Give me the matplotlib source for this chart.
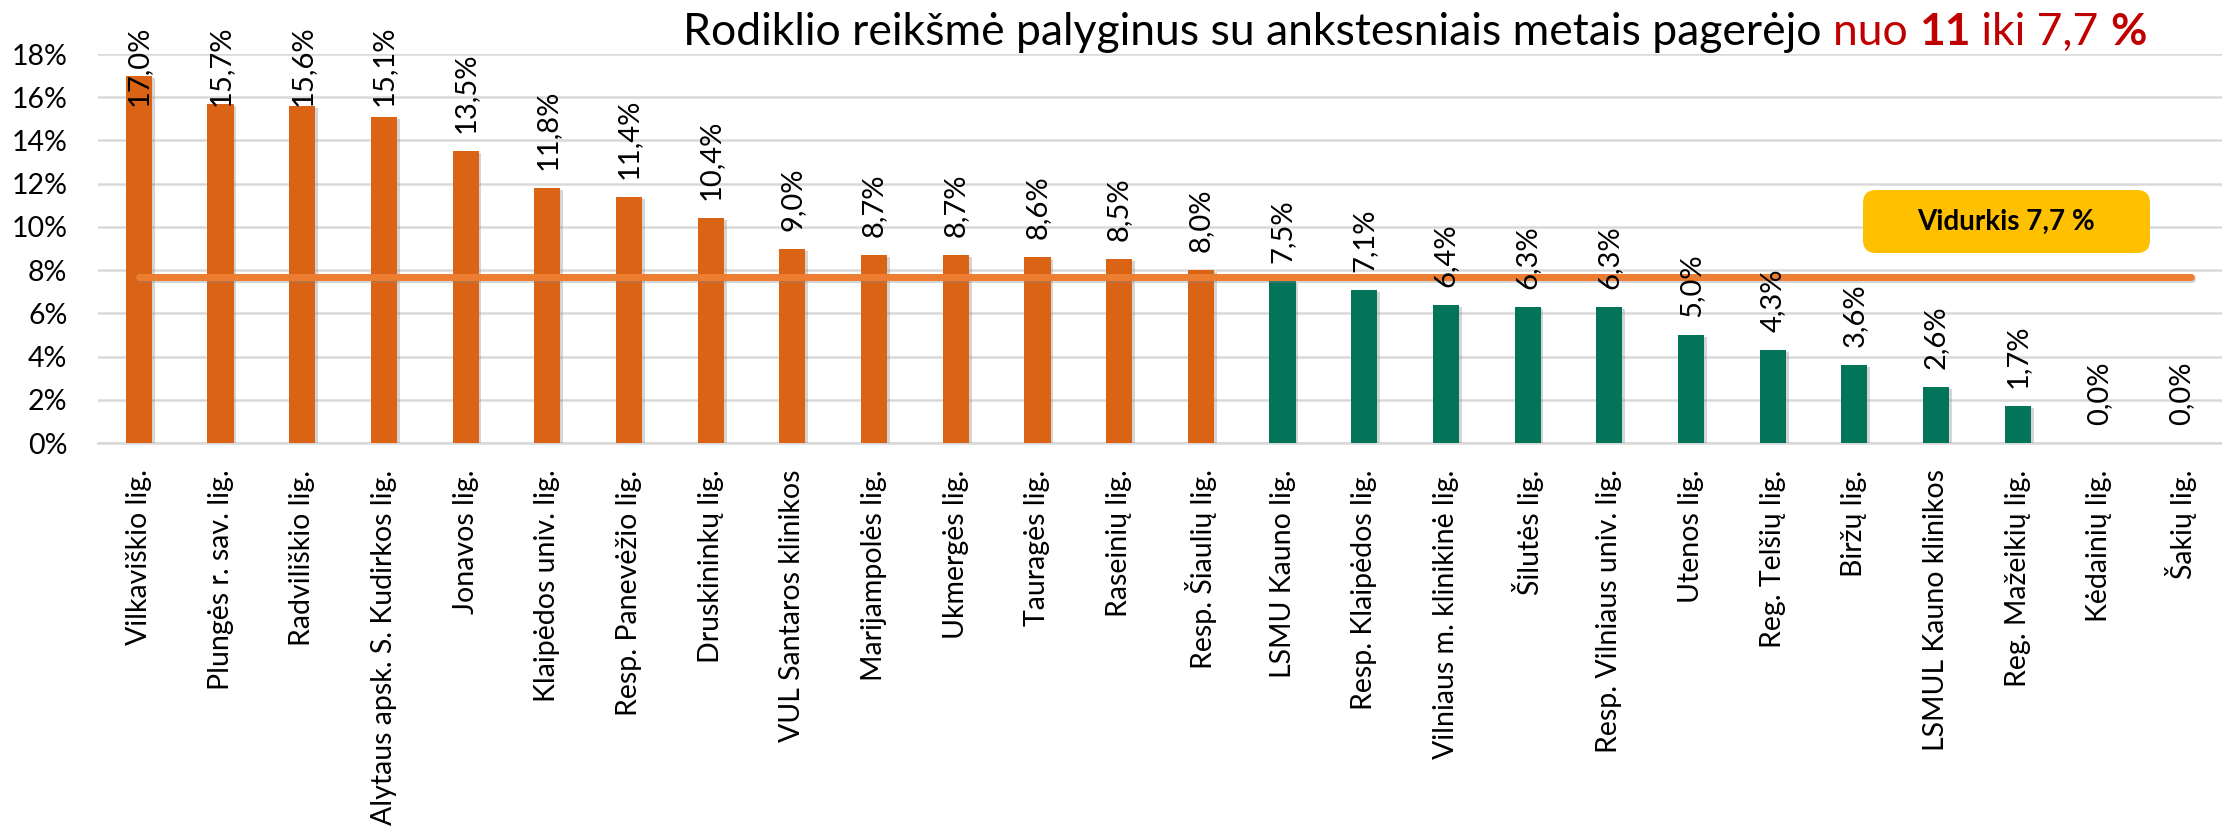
import matplotlib
matplotlib.use("Agg")
import matplotlib.pyplot as plt
import matplotlib.patheffects as pe
from matplotlib.patches import FancyBboxPatch
from matplotlib.ticker import FuncFormatter
import numpy as np

plt.rcParams['font.family'] = ['Lato', 'DejaVu Sans']

ligonines = ["Vilkaviškio lig.", "Plungės r. sav. lig.", "Radviliškio lig.",
             "Alytaus apsk. S. Kudirkos lig.", "Jonavos lig.", "Klaipėdos univ. lig.",
             "Resp. Panevėžio lig.", "Druskininkų lig.", "VUL Santaros klinikos",
             "Marijampolės lig.", "Ukmergės lig.", "Tauragės lig.", "Raseinių lig.",
             "Resp. Šiaulių lig.", "LSMU Kauno lig.", "Resp. Klaipėdos lig.",
             "Vilniaus m. klinikinė lig.", "Šilutės lig.", "Resp. Vilniaus univ. lig.",
             "Utenos lig.", "Reg. Telšių lig.", "Biržų lig.", "LSMUL Kauno klinikos",
             "Reg. Mažeikių lig.", "Kėdainių lig.", "Šakių lig."]
reiksmes = [17.0, 15.7, 15.6, 15.1, 13.5, 11.8, 11.4, 10.4, 9.0, 8.7, 8.7, 8.6, 8.5,
            8.0, 7.5, 7.1, 6.4, 6.3, 6.3, 5.0, 4.3, 3.6, 2.6, 1.7, 0.0, 0.0]
vidurkis = 7.7
y_ticks = [0, 2, 4, 6, 8, 10, 12, 14, 16, 18]

oranzine = '#DA6316'
zalia = '#01745A'
linija = '#ED7D31'

fig = plt.figure(figsize=(22.22, 8.27), dpi=100)
ax = fig.add_axes([0.0441, 0.4643, 0.9559, 0.4704])

x = np.arange(len(ligonines))
spalvos = [oranzine if v >= vidurkis else zalia for v in reiksmes]
bars = ax.bar(x, reiksmes, width=0.32, color=spalvos, zorder=3)
for b in bars:
    b.set_path_effects([pe.SimplePatchShadow(offset=(2, -1.5), shadow_rgbFace='#888888', alpha=0.35),
                        pe.Normal()])

# vidurkio linija
ax.plot([x[0], x[-1] + 0.12], [vidurkis, vidurkis], color=linija, lw=5,
        solid_capstyle='round', zorder=4,
        path_effects=[pe.SimpleLineShadow(offset=(1, -2), shadow_color='#888888', alpha=0.35),
                      pe.Normal()])

# reiksmiu etiketes
for xi, v in zip(x, reiksmes):
    yl = min(v + 0.83, 15.6)
    ax.text(xi, yl, ('%.1f%%' % v).replace('.', ','), rotation=90, ha='center', va='bottom',
            fontsize=21, color='black', zorder=5, clip_on=False)

ax.set_xlim(-0.5, len(ligonines) - 0.5)
ax.set_ylim(0, 18)
ax.set_yticks(y_ticks)
ax.yaxis.set_major_formatter(FuncFormatter(lambda v, p: '%d%%' % v))
ax.set_xticks(x)
ax.set_xticklabels(ligonines, rotation=90, fontsize=20.5)
ax.tick_params(axis='y', length=0, pad=22, labelsize=20.5)
ax.tick_params(axis='x', length=0, pad=19)
ax.grid(axis='y', color='#D9D9D9', lw=1.8, zorder=0)
for s in ['top', 'right', 'left']:
    ax.spines[s].set_visible(False)
ax.spines['bottom'].set_color('#D9D9D9')
ax.spines['bottom'].set_linewidth(1.8)

# pavadinimas is daliu
renderer = fig.canvas.get_renderer()
dalys = [("Rodiklio reikšmė palyginus su ankstesniais metais pagerėjo ", 'black', 'normal'),
         ("nuo ", '#C00000', 'normal'),
         ("11", '#C00000', 'bold'),
         (" iki 7,7 ", '#C00000', 'normal'),
         ("%", '#C00000', 'bold')]
xp = 683
for tekstas, sp, w in dalys:
    t = fig.text(xp / 2222, 1 - 45 / 827, tekstas, color=sp, fontweight=w, fontsize=32,
                 ha='left', va='baseline')
    bb = t.get_window_extent(renderer=renderer)
    xp = bb.x1

# vidurkio langelis
box = FancyBboxPatch((18.63, 5.74), 2.87, 0.63, boxstyle='round,pad=0,rounding_size=0.13',
                     transform=fig.dpi_scale_trans, facecolor='#FFC000', edgecolor='none')
fig.patches.append(box)
fig.text(2006 / 2222, 1 - 221.5 / 827, 'Vidurkis 7,7 %', ha='center', va='center',
         fontsize=20, fontweight='bold', color='black')

fig.savefig('out.png', dpi=100)
